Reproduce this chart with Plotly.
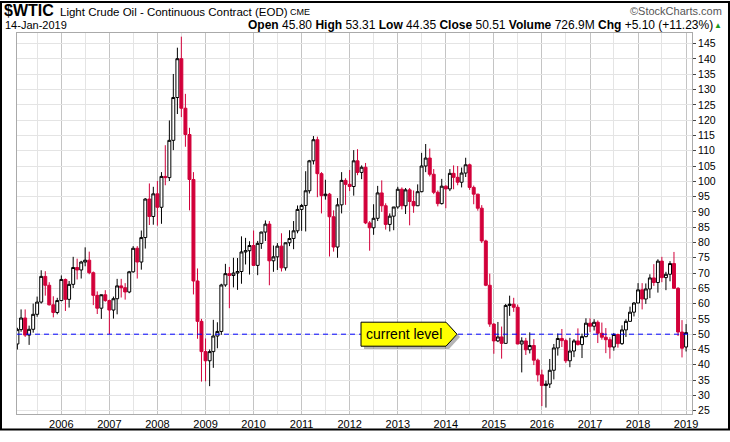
import pandas as pd
import plotly.graph_objects as go

# monthly candles, Feb 2005 .. Jan 2019
months = pd.date_range('2005-02-01', '2019-01-01', freq='MS')

opens = [
    46.8, 51.5, 55.3, 49.7, 51.6, 56.5, 60.5, 68.9, 66.0, 59.6, 57.1,
    61.0, 67.9, 61.4, 66.3, 71.8, 71.0, 73.6, 74.2, 70.1, 62.7, 58.5, 62.9,
    61.0, 57.9, 61.6, 65.8, 65.2, 63.8, 70.4, 78.1, 73.6, 81.6, 94.2, 88.5,
    95.9, 91.5, 101.6, 101.2, 113.4, 127.4, 140.1, 123.9, 115.3, 100.6, 67.4, 54.2,
    44.3, 41.3, 44.3, 49.4, 50.9, 66.1, 69.8, 69.2, 70.0, 70.5, 76.9, 77.3,
    79.0, 72.5, 79.7, 83.4, 86.0, 74.0, 75.3, 78.8, 71.7, 79.9, 81.3, 83.8,
    90.8, 92.1, 96.9, 106.7, 113.6, 102.5, 95.3, 95.8, 88.4, 78.5, 92.3, 100.3,
    99.0, 98.3, 106.7, 102.9, 104.6, 86.4, 84.8, 87.9, 96.2, 92.0, 85.9, 88.6,
    91.6, 97.4, 92.0, 97.2, 93.4, 92.0, 96.6, 105.0, 107.6, 102.3, 96.4, 92.7,
    98.4, 97.5, 102.6, 101.3, 99.7, 102.7, 105.4, 98.0, 95.8, 91.2, 80.5, 66.0,
    53.3, 47.8, 49.1, 47.0, 59.4, 59.8, 58.8, 46.8, 47.8, 44.9, 46.3, 41.5,
    36.7, 33.2, 33.7, 38.2, 45.5, 48.6, 47.9, 41.3, 44.5, 47.8, 46.6, 49.2,
    53.6, 52.6, 53.9, 50.3, 49.0, 48.2, 45.8, 49.9, 46.9, 51.4, 54.2, 57.2,
    60.2, 64.5, 61.5, 64.8, 68.4, 66.9, 73.9, 68.5, 69.6, 73.1, 65.0, 50.7,
    45.80,
]
highs = [
    52.1, 58.1, 58.1, 52.8, 60.0, 62.3, 70.9, 70.6, 67.0, 62.4, 61.9,
    69.2, 68.2, 67.4, 75.3, 74.7, 74.0, 78.4, 77.0, 70.5, 64.0, 62.5, 64.4,
    61.3, 62.3, 68.1, 68.1, 66.7, 70.7, 78.8, 78.8, 83.9, 94.5, 99.3, 98.2,
    100.1, 103.0, 111.8, 119.9, 135.1, 143.7, 147.3, 128.6, 117.5, 103.0, 71.5, 55.0,
    48.6, 45.0, 54.7, 53.9, 66.5, 73.0, 72.0, 75.0, 74.9, 82.0, 81.5, 80.4,
    83.9, 80.5, 83.5, 87.2, 87.0, 79.0, 79.8, 83.0, 80.0, 84.0, 87.0, 92.1,
    92.6, 103.3, 107.0, 114.8, 114.6, 103.0, 100.5, 96.2, 90.5, 94.5, 103.0, 101.0,
    103.7, 110.2, 110.5, 105.2, 106.0, 87.0, 92.5, 98.5, 100.3, 92.8, 89.5, 91.5,
    98.2, 98.0, 97.8, 97.8, 97.0, 99.0, 109.3, 112.2, 110.7, 104.0, 97.0, 100.8,
    98.7, 104.0, 105.2, 105.0, 104.5, 107.7, 105.8, 98.6, 95.9, 92.2, 80.9, 69.8,
    53.6, 54.0, 52.5, 59.9, 62.6, 61.9, 59.7, 49.0, 48.8, 50.6, 48.4, 42.0,
    38.4, 34.8, 41.9, 46.8, 50.2, 51.7, 48.5, 48.8, 48.4, 51.9, 50.2, 55.2,
    55.2, 54.9, 54.5, 53.8, 52.0, 49.0, 50.4, 50.2, 52.9, 54.9, 59.0, 60.5,
    66.7, 66.7, 66.6, 69.6, 72.9, 74.5, 75.3, 70.4, 73.9, 76.9, 65.4, 54.6,
    53.31,
]
lows = [
    45.0, 50.8, 49.1, 46.5, 50.5, 55.7, 60.0, 62.6, 59.4, 55.5, 56.5,
    60.8, 57.6, 58.7, 65.1, 67.9, 68.2, 72.2, 69.6, 59.5, 56.6, 55.0, 60.6,
    50.0, 55.1, 56.5, 62.0, 61.3, 63.4, 70.1, 68.2, 71.1, 78.0, 85.7, 85.8,
    85.5, 86.1, 98.7, 100.1, 110.2, 122.0, 121.0, 111.3, 90.5, 63.0, 48.5, 34.5,
    34.6, 33.0, 39.0, 45.4, 49.8, 65.5, 58.5, 65.3, 64.5, 66.5, 72.8, 69.5,
    72.3, 69.3, 77.9, 80.5, 66.0, 70.4, 71.0, 70.5, 70.8, 78.8, 77.8, 83.0,
    83.8, 83.6, 96.0, 105.5, 94.8, 89.5, 94.0, 75.4, 77.0, 75.0, 89.5, 92.3,
    96.8, 95.3, 102.0, 100.7, 86.0, 77.3, 82.5, 87.0, 90.0, 84.2, 83.6, 84.0,
    91.0, 90.8, 89.3, 85.6, 89.7, 91.9, 96.4, 103.0, 101.6, 95.8, 91.8, 92.4,
    91.2, 96.8, 97.4, 98.7, 98.0, 101.4, 97.2, 92.5, 90.4, 79.8, 65.7, 52.4,
    43.6, 47.4, 42.0, 46.9, 56.0, 57.3, 46.7, 37.5, 43.2, 43.7, 39.9, 34.5,
    26.5, 26.0, 32.4, 35.2, 43.0, 45.8, 40.6, 39.2, 42.5, 46.3, 42.2, 49.0,
    50.7, 51.2, 47.1, 48.2, 43.8, 42.0, 44.6, 45.6, 46.5, 49.1, 54.0, 55.8,
    60.1, 58.1, 59.9, 61.8, 65.8, 63.6, 67.0, 64.4, 67.3, 64.9, 49.4, 42.4,
    44.35,
]
closes = [
    51.5, 55.3, 49.7, 51.6, 56.5, 60.5, 68.9, 66.0, 59.6, 57.1, 61.0,
    67.9, 61.4, 66.3, 71.8, 71.0, 73.6, 74.2, 70.1, 62.7, 58.5, 62.9, 61.0,
    57.9, 61.6, 65.8, 65.2, 63.8, 70.4, 78.1, 73.6, 81.6, 94.2, 88.5, 95.9,
    91.5, 101.6, 101.2, 113.4, 127.4, 140.1, 123.9, 115.3, 100.6, 67.4, 54.2, 44.3,
    41.3, 44.3, 49.4, 50.9, 66.1, 69.8, 69.2, 70.0, 70.5, 76.9, 77.3, 79.0,
    72.5, 79.7, 83.4, 86.0, 74.0, 75.3, 78.8, 71.7, 79.9, 81.3, 83.8, 90.8,
    92.1, 96.9, 106.7, 113.6, 102.5, 95.3, 95.8, 88.4, 78.5, 92.3, 100.3, 99.0,
    98.3, 106.7, 102.9, 104.6, 86.4, 84.8, 87.9, 96.2, 92.0, 85.9, 88.6, 91.6,
    97.4, 92.0, 97.2, 93.4, 92.0, 96.6, 105.0, 107.6, 102.3, 96.4, 92.7, 98.4,
    97.5, 102.6, 101.3, 99.7, 102.7, 105.4, 98.0, 95.8, 91.2, 80.5, 66.0, 53.3,
    47.8, 49.1, 47.0, 59.4, 59.8, 58.8, 46.8, 47.8, 44.9, 46.3, 41.5, 36.7,
    33.2, 33.7, 38.2, 45.5, 48.6, 47.9, 41.3, 44.5, 47.8, 46.6, 49.2, 53.6,
    52.6, 53.9, 50.3, 49.0, 48.2, 45.8, 49.9, 46.9, 51.4, 54.2, 57.2, 60.2,
    64.5, 61.5, 64.8, 68.4, 66.9, 73.9, 68.5, 69.6, 73.1, 65.0, 50.7, 45.41,
    50.51,
]

current_level = 50
volume_text = '726.9M'

RED = '#d2003a'
W, H = 730, 442
L, R, T, B = 17, 38, 33, 17
PW, PH = W - L - R, H - T - B
YR = [23.9, 148.5]


def px(x):
    return (x - L) / PW


def py(y):
    return (H - B - y) / PH


fig = go.Figure()
fig.add_trace(go.Candlestick(
    x=months, open=opens, high=highs, low=lows, close=closes,
    increasing=dict(line=dict(color='black', width=1), fillcolor='white'),
    decreasing=dict(line=dict(color=RED, width=1), fillcolor=RED),
    whiskerwidth=0, hoverinfo='skip', name='$WTIC'))

fig.update_layout(
    width=W, height=H, autosize=False,
    margin=dict(l=L, r=R, t=T, b=B),
    paper_bgcolor='white', plot_bgcolor='white',
    showlegend=False,
    boxgap=0.2, boxgroupgap=0,
    font=dict(family='Liberation Sans, Arial, sans-serif', size=10, color='black'),
    xaxis=dict(
        type='date', range=['2005-01-29', '2019-02-15'],
        rangeslider=dict(visible=False),
        tick0='2006-01-01', dtick='M12', tickformat='%Y', ticks='',
        showgrid=True, gridcolor='#c4c4c4', gridwidth=1,
        minor=dict(tick0='2005-07-01', dtick='M6', showgrid=True, gridcolor='#e4e4e4'),
        showline=True, linecolor='#aaaaaa', mirror=True,
        tickfont=dict(size=11), zeroline=False),
    xaxis2=dict(
        type='date', range=['2005-01-29', '2019-02-15'], overlaying='x', anchor='y',
        tick0='2005-01-01', dtick='M1', ticks='inside', ticklen=2, tickcolor='#9a9a9a',
        showticklabels=False, showgrid=False, showline=False),
    yaxis=dict(
        side='right', range=YR,
        tickvals=list(range(25, 150, 5)),
        showgrid=True, gridcolor='#e4e4e4', gridwidth=1,
        ticks='outside', ticklen=3, tickcolor='#444444',
        showline=True, linecolor='#aaaaaa', mirror=True, zeroline=False,
        tickfont=dict(size=10.5)),
)

# dashed "current level" line
fig.add_shape(type='line', xref='paper', x0=0, x1=1, yref='y',
              y0=current_level, y1=current_level,
              line=dict(color='#0000ff', width=1, dash='5px,4px'))

# label with arrow pointing right, plus its drop shadow
tip = px(457)
label_path = 'M -96,-12 L -11,-12 L 0,0 L -11,12 L -96,12 Z'
fig.add_shape(type='path', xref='paper', yref='y', xsizemode='pixel', ysizemode='pixel',
              xanchor=tip + 3 / PW, yanchor=current_level - 3 * (YR[1] - YR[0]) / PH,
              path=label_path, fillcolor='rgba(90,90,90,0.45)', line=dict(width=0))
fig.add_shape(type='path', xref='paper', yref='y', xsizemode='pixel', ysizemode='pixel',
              xanchor=tip, yanchor=current_level,
              path=label_path, fillcolor='#ffff00', line=dict(color='black', width=1))
fig.add_annotation(x=px(404), y=current_level, xref='paper', yref='y',
                   text='current level', showarrow=False,
                   font=dict(size=14, color='black'))

# header
o, h, l, c = opens[-1], highs[-1], lows[-1], closes[-1]
chg = c - closes[-2]
pct = chg / closes[-2] * 100
head = dict(xref='paper', yref='paper', yanchor='middle', showarrow=False, borderpad=0)
fig.add_annotation(x=px(3), y=py(10), xanchor='left', font=dict(size=16),
                   text='<b>$WTIC</b>', **head)
fig.add_annotation(x=px(59), y=py(11), xanchor='left', font=dict(size=11.5),
                   text='Light Crude Oil - Continuous Contract (EOD)', **head)
fig.add_annotation(x=px(289), y=py(11.5), xanchor='left', font=dict(size=9),
                   text='CME', **head)
fig.add_annotation(x=px(723), y=py(10), xanchor='right',
                   font=dict(size=11, color='#555555'), text='©StockCharts.com', **head)
fig.add_annotation(x=px(4), y=py(25), xanchor='left', font=dict(size=11),
                   text=months[-1].replace(day=14).strftime('%d-%b-%Y'), **head)
fig.add_annotation(
    x=px(714), y=py(25), xanchor='right', font=dict(size=12),
    text=(f'<b>Open</b> {o:.2f} <b>High</b> {h:.2f} <b>Low</b> {l:.2f} '
          f'<b>Close</b> {c:.2f} <b>Volume</b> {volume_text} '
          f'<b>Chg</b> {chg:+.2f} ({pct:+.2f}%)'), **head)
fig.add_annotation(x=px(723), y=py(25), xanchor='right',
                   font=dict(size=8, color='#1a9a1a'), text='▲', **head)

# outer frame
fig.add_shape(type='rect', xref='paper', yref='paper', layer='above',
              x0=px(1), x1=px(729), y0=py(441), y1=py(1),
              line=dict(color='black', width=2))

# keep the page exactly the size of the figure
page_css = ("document.documentElement.style.overflow='hidden';"
            "document.documentElement.style.height='442px';"
            "document.body.style.margin='0';"
            "document.body.style.overflow='hidden';"
            "document.body.style.height='442px';")
fig.write_html('out.html',
               config={'responsive': False, 'displayModeBar': False},
               post_script=page_css)
